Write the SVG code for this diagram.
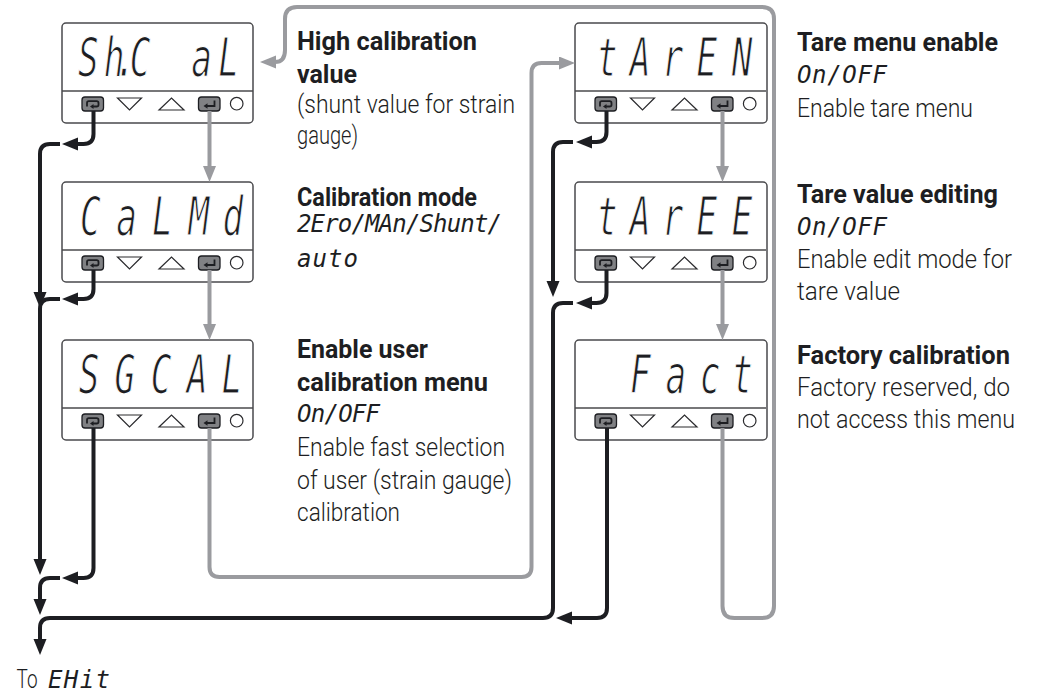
<svg xmlns="http://www.w3.org/2000/svg" width="1037" height="695" viewBox="0 0 1037 695">
<style>
.box{fill:#fff;stroke:#4a4a4d;stroke-width:1.5}
.div{stroke:#4a4a4d;stroke-width:1.3}
.key{fill:#808184;stroke:#1d1e22;stroke-width:1.3}
.ico{fill:none;stroke:#1d1e22;stroke-width:1.8}
.tri{fill:#fff;stroke:#2a2a2d;stroke-width:1.2}
.seg{font-family:"DejaVu Sans Mono","Liberation Mono",monospace;font-style:oblique;fill:#1d1e22;text-anchor:middle;font-size:53px;stroke:#fff;stroke-width:1.2}
.segs{font-family:"DejaVu Sans Mono","Liberation Mono",monospace;font-style:oblique;fill:#1d1e22;font-size:24px}
.t{font-family:Roboto,"Liberation Sans",Arial,sans-serif;font-weight:300;font-size:25px;fill:#1d1e22}
.b{font-weight:bold}
.blk{fill:none;stroke:#1d1e22;stroke-width:4}
.gry{fill:none;stroke:#9a9b9f;stroke-width:4}
</style>
<defs>
<marker id="ab" markerUnits="userSpaceOnUse" markerWidth="18" markerHeight="14" refX="1" refY="6.5" orient="auto" viewBox="0 0 18 14">
<path d="M0,0 L16,6.5 L0,13 Z" fill="#1d1e22"/>
</marker>
<marker id="ag" markerUnits="userSpaceOnUse" markerWidth="18" markerHeight="14" refX="1" refY="6.5" orient="auto" viewBox="0 0 18 14">
<path d="M0,0 L16,6.5 L0,13 Z" fill="#9a9b9f"/>
</marker>
<g id="keys">
<line class="div" x1="0" y1="68" x2="191" y2="68"/>
<rect class="key" x="20" y="74" width="21.5" height="14" rx="3"/>
<path class="ico" d="M25,83.5 V80 Q25,78.2 26.8,78.2 H34.7 Q36.5,78.2 36.5,80 V81.7 Q36.5,83.5 34.7,83.5 H31"/>
<path d="M28,83.5 L31.5,81 L31.5,86 Z" fill="#1d1e22"/>
<path class="tri" d="M55.5,75 H79.5 L67.5,87 Z"/>
<path class="tri" d="M97,87 H122 L109.5,75 Z"/>
<rect class="key" x="136.5" y="74" width="21.5" height="14" rx="3"/>
<path class="ico" d="M152.5,77.5 V83 H145"/>
<path d="M141.5,83 L145.5,80.2 L145.5,85.8 Z" fill="#1d1e22"/>
<circle cx="174.7" cy="80.7" r="6.3" fill="#fff" stroke="#2a2a2d" stroke-width="1.2"/>
</g>
</defs>

<g id="node-shcal">
<rect class="box" x="62" y="23" width="191" height="100" rx="4"/>
<use href="#keys" x="62" y="23"/>
<text class="seg" transform="translate(0,76) scale(0.65,1)" x="136.15 175.38 193.08 215.38 310 351.54" y="0">Sh.CaL</text>
<text class="t b" x="297" y="50" textLength="180" lengthAdjust="spacingAndGlyphs">High calibration</text>
<text class="t b" x="297" y="83" textLength="60" lengthAdjust="spacingAndGlyphs">value</text>
<text class="t" x="297" y="113" textLength="218" lengthAdjust="spacingAndGlyphs">(shunt value for strain</text>
<text class="t" x="297" y="144" textLength="61" lengthAdjust="spacingAndGlyphs">gauge)</text>
</g>

<g id="node-calmd">
<rect class="box" x="62" y="182" width="191" height="100" rx="4"/>
<use href="#keys" x="62" y="182"/>
<text class="seg" transform="translate(0,235) scale(0.65,1)" x="139.23 194.62 250 306.15 358.46" y="0">CaLMd</text>
<text class="t b" x="297" y="206" textLength="180" lengthAdjust="spacingAndGlyphs">Calibration mode</text>
<text class="segs" x="297" y="232" textLength="205" lengthAdjust="spacing">2Ero/MAn/Shunt/</text>
<text class="segs" x="297" y="267" textLength="61" lengthAdjust="spacing">auto</text>
</g>

<g id="node-sgcal">
<rect class="box" x="62" y="340" width="191" height="100" rx="4"/>
<use href="#keys" x="62" y="340"/>
<text class="seg" transform="translate(0,393) scale(0.65,1)" x="136.92 192.31 247.69 303.08 356.92" y="0">SGCAL</text>
<text class="t b" x="297" y="358" textLength="131" lengthAdjust="spacingAndGlyphs">Enable user</text>
<text class="t b" x="297" y="391" textLength="191" lengthAdjust="spacingAndGlyphs">calibration menu</text>
<text class="segs" x="297" y="421.5" textLength="83" lengthAdjust="spacing">On/OFF</text>
<text class="t" x="297" y="456" textLength="208" lengthAdjust="spacingAndGlyphs">Enable fast selection</text>
<text class="t" x="297" y="489" textLength="215" lengthAdjust="spacingAndGlyphs">of user (strain gauge)</text>
<text class="t" x="297" y="521" textLength="103" lengthAdjust="spacingAndGlyphs">calibration</text>
</g>

<g id="node-taren">
<rect class="box" x="575" y="23" width="192" height="100" rx="4"/>
<use href="#keys" x="575" y="23"/>
<text class="seg" transform="translate(0,76) scale(0.65,1)" x="933.85 984.62 1035.38 1087.69 1141.54" y="0">tArEN</text>
<text class="t b" x="797" y="50.5" textLength="201" lengthAdjust="spacingAndGlyphs">Tare menu enable</text>
<text class="segs" x="797" y="82.5" textLength="90" lengthAdjust="spacing">On/OFF</text>
<text class="t" x="797" y="116.5" textLength="176" lengthAdjust="spacingAndGlyphs">Enable tare menu</text>
</g>

<g id="node-taree">
<rect class="box" x="575" y="182" width="192" height="100" rx="4"/>
<use href="#keys" x="575" y="182"/>
<text class="seg" transform="translate(0,235) scale(0.65,1)" x="933.85 984.62 1035.38 1087.69 1141.54" y="0">tArEE</text>
<text class="t b" x="797" y="202.5" textLength="201" lengthAdjust="spacingAndGlyphs">Tare value editing</text>
<text class="segs" x="797" y="235" textLength="90" lengthAdjust="spacing">On/OFF</text>
<text class="t" x="797" y="268" textLength="215" lengthAdjust="spacingAndGlyphs">Enable edit mode for</text>
<text class="t" x="797" y="300" textLength="103" lengthAdjust="spacingAndGlyphs">tare value</text>
</g>

<g id="node-fact">
<rect class="box" x="575" y="340" width="192" height="100" rx="4"/>
<use href="#keys" x="575" y="340"/>
<text class="seg" transform="translate(0,393) scale(0.65,1)" x="985.38 1040 1092.31 1142.31" y="0">Fact</text>
<text class="t b" x="797" y="364" textLength="213" lengthAdjust="spacingAndGlyphs">Factory calibration</text>
<text class="t" x="797" y="396" textLength="213" lengthAdjust="spacingAndGlyphs">Factory reserved, do</text>
<text class="t" x="797" y="428" textLength="218" lengthAdjust="spacingAndGlyphs">not access this menu</text>
</g>

<g id="node-exit">
<text class="t" x="16.5" y="688" textLength="21" lengthAdjust="spacingAndGlyphs">To</text>
<text class="segs" x="48" y="688" textLength="62" lengthAdjust="spacing">EHit</text>
</g>

<g id="connectors">
<path class="gry" d="M209.5,111 V167" marker-end="url(#ag)"/>
<path class="gry" d="M209.5,270 V325" marker-end="url(#ag)"/>
<path class="gry" d="M209.5,428 V567 Q209.5,577 219.5,577 H521.5 Q531.5,577 531.5,567 V73 Q531.5,63 541.5,63 H560" marker-end="url(#ag)"/>
<path class="gry" d="M722.5,111 V167" marker-end="url(#ag)"/>
<path class="gry" d="M722.5,270 V325" marker-end="url(#ag)"/>
<path class="gry" d="M722.5,428 V606 Q722.5,618 734.5,618 H762 Q774,618 774,606 V19 Q774,7 762,7 H297 Q285,7 285,19 V50 Q285,62 275,62" marker-end="url(#ag)"/>

<path class="blk" d="M93.5,111 V134 Q93.5,144 83.5,144 H77" marker-end="url(#ab)"/>
<path class="blk" d="M60,144 H50 Q40,144 40,154 V293" marker-end="url(#ab)"/>
<path class="blk" d="M93.5,270 V289 Q93.5,299 83.5,299 H77" marker-end="url(#ab)"/>
<path class="blk" d="M60,299 H50 Q40,299 40,309 V560" marker-end="url(#ab)"/>
<path class="blk" d="M93.5,428 V568 Q93.5,578 83.5,578 H77" marker-end="url(#ab)"/>
<path class="blk" d="M60,578 H50 Q40,578 40,588 V600" marker-end="url(#ab)"/>

<path class="blk" d="M606.5,111 V132 Q606.5,142 596.5,142 H591" marker-end="url(#ab)"/>
<path class="blk" d="M573,142 H563 Q553,142 553,152 V282" marker-end="url(#ab)"/>
<path class="blk" d="M606.5,270 V293 Q606.5,303 596.5,303 H591" marker-end="url(#ab)"/>
<path class="blk" d="M573,303 H563 Q553,303 553,313 V608 Q553,618 543,618 H50 Q40,618 40,628 V640" marker-end="url(#ab)"/>
<path class="blk" d="M607,428 V608 Q607,618 597,618 H571" marker-end="url(#ab)"/>
</g>
</svg>
